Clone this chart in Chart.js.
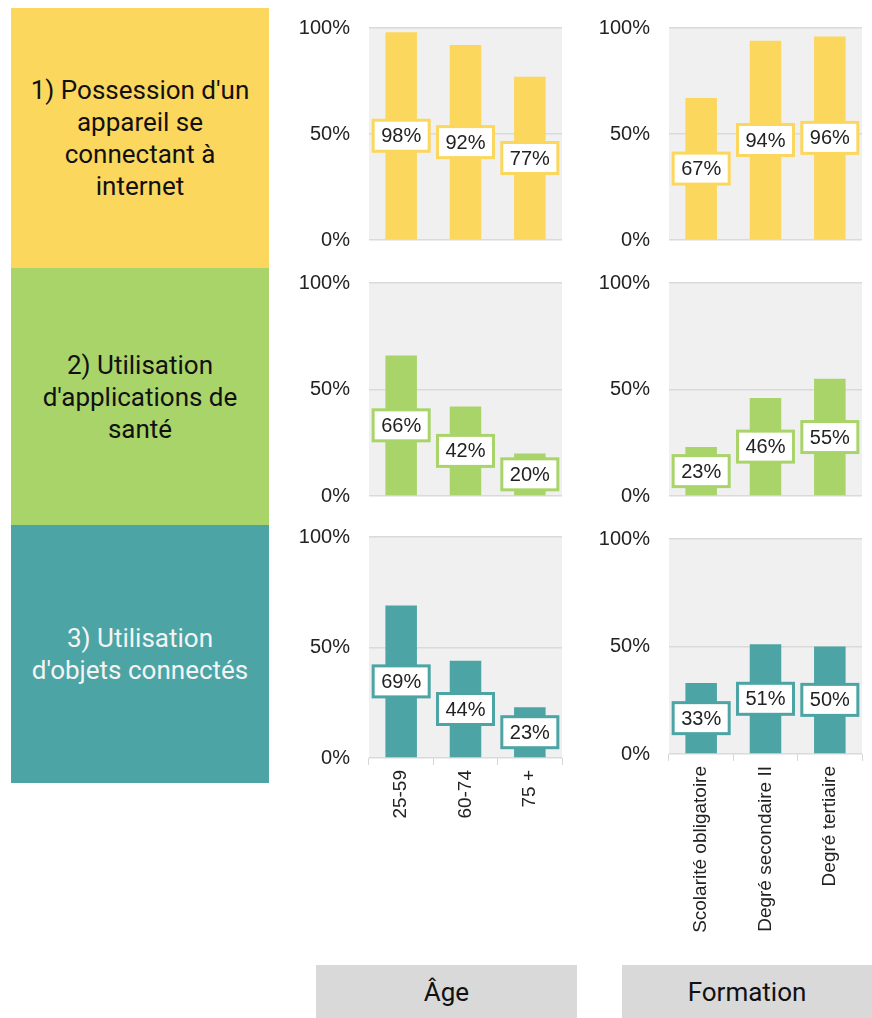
<!DOCTYPE html>
<html>
<head>
<meta charset="utf-8">
<script src="https://cdn.jsdelivr.net/npm/chart.js@4/dist/chart.umd.min.js"></script>
<style>
  body { margin: 0; background: #fff; width: 872px; height: 1018px; position: relative; overflow: hidden; }
  .box { position: absolute; display: flex; align-items: center; justify-content: center; text-align: center;
         font-family: Roboto, sans-serif; font-size: 26px; line-height: 32px; }
  .panel { position: absolute; }
</style>
</head>
<body>
<div class="box" style="left:11px;top:8px;width:258px;height:260px;background:#fcd75e;color:#111;">1) Possession d'un<br>appareil se<br>connectant à<br>internet</div>
<div class="box" style="left:11px;top:268px;width:258px;height:257px;background:#a9d46a;color:#111;">2) Utilisation<br>d'applications de<br>santé</div>
<div class="box" style="left:11px;top:525px;width:258px;height:258px;background:#4ca4a4;color:#f4f4f4;">3) Utilisation<br>d'objets connectés</div>
<div class="box" style="left:316px;top:965px;width:261px;height:53px;background:#d9d9d9;color:#111;">Âge</div>
<div class="box" style="left:622px;top:965px;width:250px;height:53px;background:#d9d9d9;color:#111;">Formation</div>

<div class="panel" style="left:290px;top:0px;width:275px;height:260px;"><canvas id="c1a"></canvas></div>
<div class="panel" style="left:590px;top:0px;width:275px;height:260px;"><canvas id="c1f"></canvas></div>
<div class="panel" style="left:290px;top:260px;width:275px;height:260px;"><canvas id="c2a"></canvas></div>
<div class="panel" style="left:590px;top:260px;width:275px;height:260px;"><canvas id="c2f"></canvas></div>
<div class="panel" style="left:290px;top:520px;width:275px;height:440px;"><canvas id="c3a"></canvas></div>
<div class="panel" style="left:590px;top:520px;width:275px;height:440px;"><canvas id="c3f"></canvas></div>

<script>
const ageLabels = ["25-59", "60-74", "75 +"];
const formationLabels = ["Scolarité obligatoire", "Degré secondaire II", "Degré tertiaire"];
const yTicks = [0, 50, 100];

const appareilAge = [98, 92, 77];
const appareilFormation = [67, 94, 96];
const santeAge = [66, 42, 20];
const santeFormation = [23, 46, 55];
const objetsAge = [69, 44, 23];
const objetsFormation = [33, 51, 50];

const yellow = "#fcd75e";
const green = "#a9d46a";
const teal = "#4ca4a4";
const tickFont = { family: "'Liberation Sans', Arial, sans-serif", size: 20 };

// gray plot background + boxed value labels in the middle of each bar
const panelPlugin = {
  id: "panel",
  beforeDraw(chart) {
    const a = chart.chartArea;
    const ctx = chart.ctx;
    ctx.save();
    ctx.fillStyle = "#f0f0f0";
    ctx.fillRect(a.left, a.top, a.right - a.left, a.bottom - a.top);
    ctx.restore();
  },
  afterDatasetsDraw(chart) {
    const ctx = chart.ctx;
    const ds = chart.data.datasets[0];
    const meta = chart.getDatasetMeta(0);
    ctx.save();
    ctx.font = "20px 'Liberation Sans', Arial, sans-serif";
    ctx.textAlign = "center";
    ctx.textBaseline = "middle";
    meta.data.forEach((bar, i) => {
      const text = ds.data[i] + "%";
      const w = ctx.measureText(text).width + 16;
      const h = 31;
      const cy = (bar.y + bar.base) / 2;
      ctx.fillStyle = "#fff";
      ctx.fillRect(bar.x - w / 2, cy - h / 2, w, h);
      ctx.lineWidth = 3;
      ctx.strokeStyle = ds.backgroundColor;
      ctx.strokeRect(bar.x - w / 2, cy - h / 2, w, h);
      ctx.fillStyle = "#222";
      ctx.fillText(text, bar.x, cy + 1);
    });
    ctx.restore();
  }
};

function makeChart(id, labels, values, color, padTop, padBottom, showX, xHeight) {
  new Chart(document.getElementById(id), {
    type: "bar",
    data: {
      labels: labels,
      datasets: [{ data: values, backgroundColor: color, barPercentage: 0.49, categoryPercentage: 1 }]
    },
    options: {
      responsive: true,
      maintainAspectRatio: false,
      animation: false,
      layout: { padding: { top: padTop, bottom: padBottom, right: 3, left: 0 } },
      plugins: { legend: { display: false }, tooltip: { enabled: false } },
      scales: {
        x: {
          display: showX,
          afterFit(scale) { if (showX) scale.height = xHeight; },
          border: { display: false },
          grid: { offset: true, drawOnChartArea: false, tickLength: 7, color: "#d6d6d6" },
          ticks: { autoSkip: false, minRotation: 90, maxRotation: 90, padding: 5, color: "#222",
                   font: { family: tickFont.family, size: 19 } }
        },
        y: {
          min: 0,
          max: 100,
          afterBuildTicks(scale) { scale.ticks = yTicks.map(v => ({ value: v })); },
          afterFit(scale) { scale.width = 79; },
          border: { display: false },
          grid: { color: "#dadada", lineWidth: 1.5, tickLength: 19, tickColor: "rgba(0,0,0,0)" },
          ticks: { padding: 0, color: "#222", font: tickFont, callback: v => v + "%" }
        }
      }
    },
    plugins: [panelPlugin]
  });
}

makeChart("c1a", ageLabels, appareilAge, yellow, 28, 20, false, 0);
makeChart("c1f", formationLabels, appareilFormation, yellow, 28, 20, false, 0);
makeChart("c2a", ageLabels, santeAge, green, 23, 24, false, 0);
makeChart("c2f", formationLabels, santeFormation, green, 23, 24, false, 0);
makeChart("c3a", ageLabels, objetsAge, teal, 17, 0, true, 202);
makeChart("c3f", formationLabels, objetsFormation, teal, 19, 0, true, 206);
</script>
</body>
</html>
